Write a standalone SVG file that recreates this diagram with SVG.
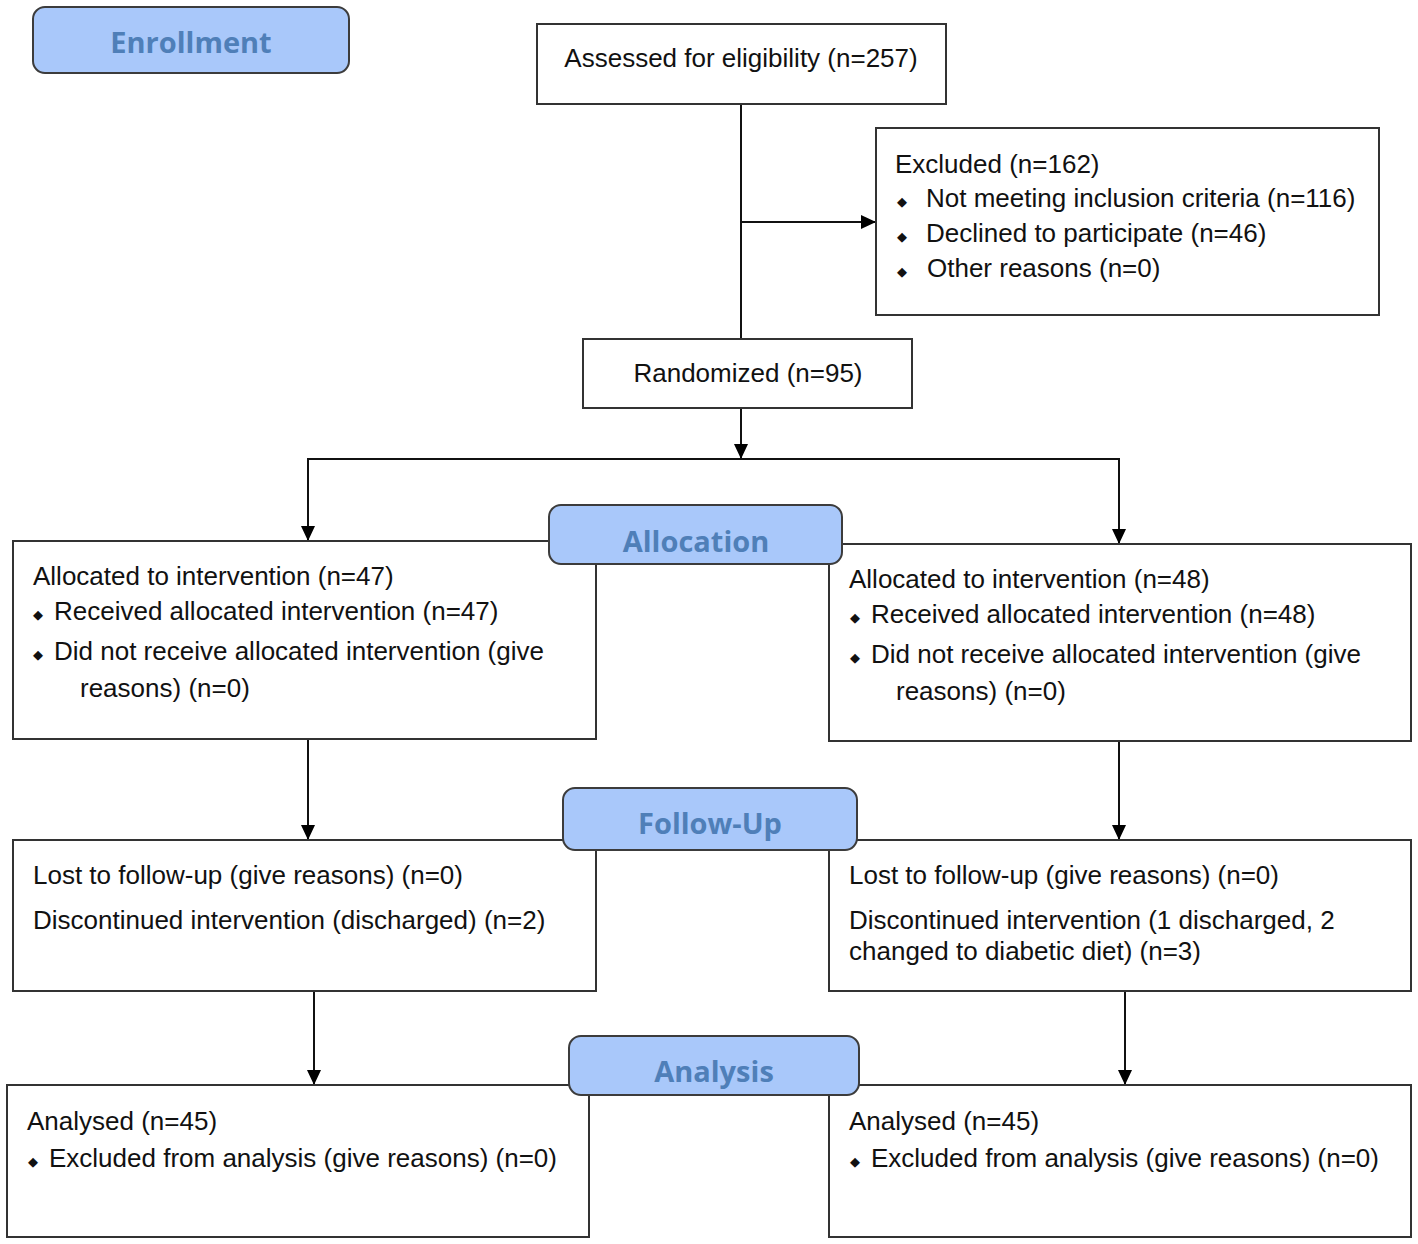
<svg xmlns="http://www.w3.org/2000/svg" width="1418" height="1244" viewBox="0 0 1418 1244">
<defs>
<marker id="ah" markerWidth="16" markerHeight="16" refX="15" refY="8" orient="auto" markerUnits="userSpaceOnUse">
<path d="M0,1 L15,8 L0,15 Z" fill="#000"/>
</marker>
<style>
.box{fill:#fff;stroke:#333;stroke-width:2}
.lbl{fill:#a9c8fa;stroke:#3c3c3c;stroke-width:2}
.lt{font-family:"Open Sans","DejaVu Sans",sans-serif;font-weight:700;font-size:29px;fill:#4f7fb8;text-anchor:middle}
.t{font-family:"Liberation Sans",Arial,sans-serif;font-size:26px;fill:#111}
.b{font-family:"DejaVu Sans",sans-serif;font-size:13px;fill:#111}
.c{stroke:#111;stroke-width:2;fill:none}
</style>
</defs>
<rect width="1418" height="1244" fill="#fff"/>

<g id="connectors">
<line class="c" x1="741" y1="104" x2="741" y2="339"/>
<line class="c" x1="741" y1="222" x2="876" y2="222" marker-end="url(#ah)"/>
<line class="c" x1="741" y1="408" x2="741" y2="459" marker-end="url(#ah)"/>
<polyline class="c" points="308,540 308,459 1119,459 1119,543"/>
<line class="c" x1="308" y1="470" x2="308" y2="541" marker-end="url(#ah)"/>
<line class="c" x1="1119" y1="470" x2="1119" y2="544" marker-end="url(#ah)"/>
<line class="c" x1="308" y1="739" x2="308" y2="840" marker-end="url(#ah)"/>
<line class="c" x1="1119" y1="741" x2="1119" y2="840" marker-end="url(#ah)"/>
<line class="c" x1="314" y1="991" x2="314" y2="1085" marker-end="url(#ah)"/>
<line class="c" x1="1125" y1="991" x2="1125" y2="1085" marker-end="url(#ah)"/>
</g>

<g id="assessed">
<rect class="box" x="537" y="24" width="409" height="80"/>
<text class="t" x="741" y="67" text-anchor="middle">Assessed for eligibility (n=257)</text>
</g>

<g id="excluded">
<rect class="box" x="876" y="128" width="503" height="187"/>
<text class="t" x="895" y="173">Excluded (n=162)</text>
<text class="b" x="897" y="206">◆</text><text class="t" x="926" y="207">Not meeting inclusion criteria (n=116)</text>
<text class="b" x="897" y="241">◆</text><text class="t" x="926" y="242">Declined to participate (n=46)</text>
<text class="b" x="897" y="276">◆</text><text class="t" x="927" y="277">Other reasons (n=0)</text>
</g>

<g id="randomized">
<rect class="box" x="583" y="339" width="329" height="69"/>
<text class="t" x="748" y="382" text-anchor="middle">Randomized (n=95)</text>
</g>

<g id="alloc-left">
<rect class="box" x="13" y="541" width="583" height="198"/>
<text class="t" x="33" y="585">Allocated to intervention (n=47)</text>
<text class="b" x="33" y="619">◆</text><text class="t" x="54" y="620">Received allocated intervention (n=47)</text>
<text class="b" x="33" y="659">◆</text><text class="t" x="54" y="660">Did not receive allocated intervention (give</text>
<text class="t" x="80" y="697">reasons) (n=0)</text>
</g>

<g id="alloc-right">
<rect class="box" x="829" y="544" width="582" height="197"/>
<text class="t" x="849" y="588">Allocated to intervention (n=48)</text>
<text class="b" x="850" y="622">◆</text><text class="t" x="871" y="623">Received allocated intervention (n=48)</text>
<text class="b" x="850" y="662">◆</text><text class="t" x="871" y="663">Did not receive allocated intervention (give</text>
<text class="t" x="896" y="700">reasons) (n=0)</text>
</g>

<g id="fu-left">
<rect class="box" x="13" y="840" width="583" height="151"/>
<text class="t" x="33" y="884">Lost to follow-up (give reasons) (n=0)</text>
<text class="t" x="33" y="929">Discontinued intervention (discharged) (n=2)</text>
</g>

<g id="fu-right">
<rect class="box" x="829" y="840" width="582" height="151"/>
<text class="t" x="849" y="884">Lost to follow-up (give reasons) (n=0)</text>
<text class="t" x="849" y="929">Discontinued intervention (1 discharged, 2</text>
<text class="t" x="849" y="960">changed to diabetic diet) (n=3)</text>
</g>

<g id="an-left">
<rect class="box" x="7" y="1085" width="582" height="152"/>
<text class="t" x="27" y="1130">Analysed (n=45)</text>
<text class="b" x="28" y="1166">◆</text><text class="t" x="49" y="1167">Excluded from analysis (give reasons) (n=0)</text>
</g>

<g id="an-right">
<rect class="box" x="829" y="1085" width="582" height="152"/>
<text class="t" x="849" y="1130">Analysed (n=45)</text>
<text class="b" x="850" y="1166">◆</text><text class="t" x="871" y="1167">Excluded from analysis (give reasons) (n=0)</text>
</g>

<g id="enrollment">
<rect class="lbl" x="33" y="7" width="316" height="66" rx="12"/>
<text class="lt" x="191" y="53">Enrollment</text>
</g>
<g id="allocation">
<rect class="lbl" x="549" y="505" width="293" height="59" rx="12"/>
<text class="lt" x="696" y="552">Allocation</text>
</g>
<g id="followup">
<rect class="lbl" x="563" y="788" width="294" height="62" rx="12"/>
<text class="lt" x="710" y="834">Follow-Up</text>
</g>
<g id="analysis">
<rect class="lbl" x="569" y="1036" width="290" height="59" rx="12"/>
<text class="lt" x="714" y="1082">Analysis</text>
</g>
</svg>
